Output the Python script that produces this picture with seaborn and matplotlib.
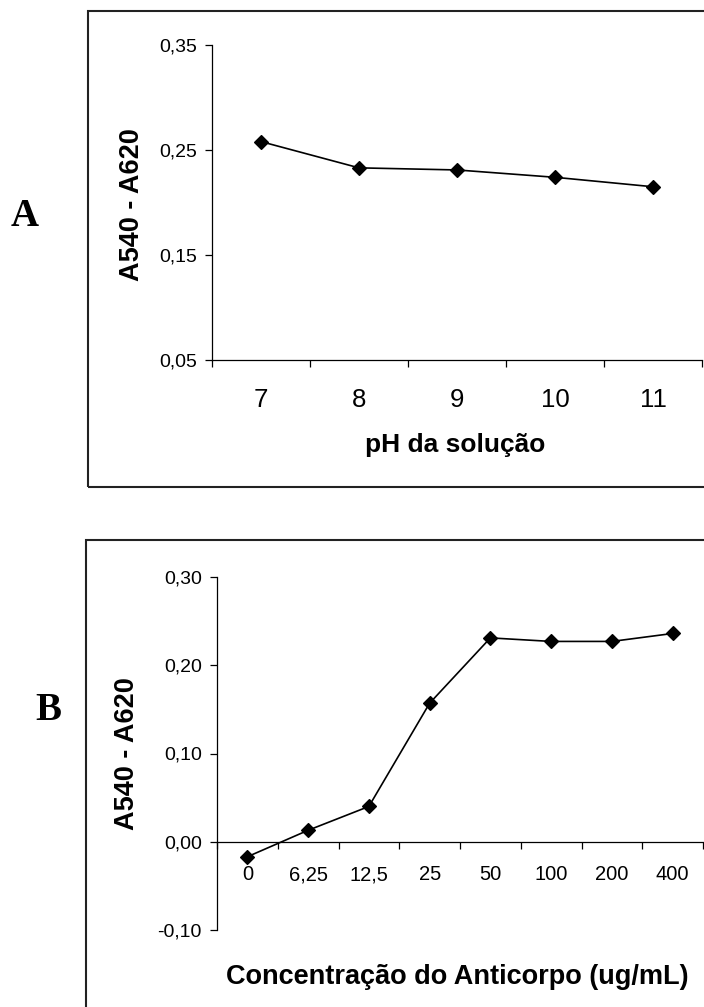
import numpy as np
import matplotlib
matplotlib.use("Agg")
import matplotlib.pyplot as plt
from matplotlib.patches import Rectangle
import seaborn as sns

# ===== Data =====
ph_labels = ["7", "8", "9", "10", "11"]
absorb_ph = [0.258, 0.233, 0.231, 0.224, 0.215]

conc_labels = ["0", "6,25", "12,5", "25", "50", "100", "200", "400"]
absorb_conc = [-0.017, 0.013, 0.040, 0.157, 0.231, 0.227, 0.227, 0.236]

yticks_a = [0.05, 0.15, 0.25, 0.35]
yticks_b = [-0.10, 0.00, 0.10, 0.20, 0.30]

# ===== Style =====
sns.set_theme(style="white")
plt.rcParams['font.family'] = ['Liberation Sans', 'DejaVu Sans']
plt.rcParams['text.color'] = 'black'
plt.rcParams['axes.labelcolor'] = 'black'

W, H = 704, 1007
fig = plt.figure(figsize=(W / 100, H / 100), dpi=100)


def comma(v):
    return f"{v:.2f}".replace(".", ",")


def excel_axes(ax, cats, yticks, xtick_size, xpad):
    n = len(cats)
    for s in ["top", "right"]:
        ax.spines[s].set_visible(False)
    for s in ["left", "bottom"]:
        ax.spines[s].set_color("black")
        ax.spines[s].set_linewidth(0.9)
    ax.set_xlim(-0.5, n - 0.5)
    # category boundaries carry the tick marks, centres carry the labels
    ax.set_xticks(np.arange(n + 1) - 0.5, labels=[""] * (n + 1))
    ax.set_xticks(np.arange(n), labels=cats, minor=True)
    ax.tick_params(axis="x", which="major", direction="out", length=5,
                   width=0.9, color="black", bottom=True)
    ax.tick_params(axis="x", which="minor", length=0, pad=xpad,
                   labelsize=xtick_size, labelcolor="black")
    ax.set_yticks(yticks, labels=[comma(v) for v in yticks])
    ax.set_ylim(yticks[0], yticks[-1])
    ax.tick_params(axis="y", direction="out", length=5, width=0.9,
                   color="black", left=True, pad=6, labelsize=14,
                   labelcolor="black")
    ax.grid(False)


# ===== Panel A =====
axA = fig.add_axes([212 / W, 1 - 360 / H, 490 / W, 315 / H])
sns.pointplot(x=ph_labels, y=absorb_ph, order=ph_labels, ax=axA,
              color="black", marker="D", markersize=7.5, linewidth=1.2,
              errorbar=None)
excel_axes(axA, ph_labels, yticks_a, 18.5, 20)
axA.set_ylabel("A540 - A620", fontsize=19.5, fontweight="bold", va="center")
axA.yaxis.set_label_coords(-0.163, 0.495)
axA.set_xlabel("pH da solução", fontsize=19, fontweight="bold", va="center")
axA.xaxis.set_label_coords(0.496, -0.27)

# ===== Panel B =====
axB = fig.add_axes([217 / W, 1 - 930 / H, 486 / W, 353 / H])
sns.pointplot(x=conc_labels, y=absorb_conc, order=conc_labels, ax=axB,
              color="black", marker="D", markersize=7.5, linewidth=1.2,
              errorbar=None)
excel_axes(axB, conc_labels, yticks_b, 14.5, 17)
axB.spines["bottom"].set_position(("data", 0))
axB.set_ylabel("A540 - A620", fontsize=19.5, fontweight="bold", va="center")
axB.yaxis.set_label_coords(-0.185, 0.501)
axB.set_xlabel("Concentração do Anticorpo (ug/mL)", fontsize=19.5,
               fontweight="bold", va="center")
axB.xaxis.set_label_coords(0.494, -0.133)

# ===== Frames and panel letters =====
fig.add_artist(Rectangle((88 / W, 1 - 487 / H), (712 - 88) / W, (487 - 11) / H,
                         transform=fig.transFigure, fill=False,
                         lw=1.5, ec="#222222"))
fig.add_artist(Rectangle((86 / W, 1 - 1015 / H), (712 - 86) / W, (1015 - 540) / H,
                         transform=fig.transFigure, fill=False,
                         lw=1.5, ec="#222222"))
fig.text(25 / W, 1 - 217 / H, "A", family=["Liberation Serif", "DejaVu Serif"],
         fontsize=28, fontweight="bold", ha="center", va="center")
fig.text(48 / W, 1 - 710 / H, "B", family=["Liberation Serif", "DejaVu Serif"],
         fontsize=28, fontweight="bold", ha="center", va="center")

fig.savefig("out.png", dpi=100, facecolor="white")
